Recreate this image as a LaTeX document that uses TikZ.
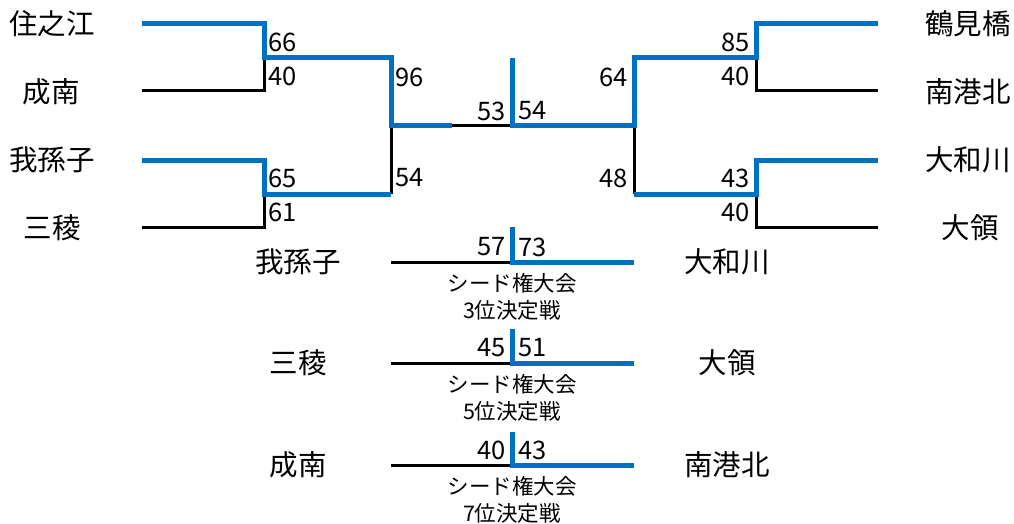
\documentclass[tikz,border=0pt]{standalone}
\usepackage{fontspec}
\setmainfont{Noto Sans CJK JP}
\definecolor{winblue}{HTML}{0070C0}
\begin{document}
\begin{tikzpicture}[x=1pt,y=-1pt,
  win/.style={draw=winblue,line width=5pt,line join=miter},
  lose/.style={draw=black,line width=3pt,line join=miter},
  team/.style={font=\fontsize{28.5}{31}\selectfont,inner sep=0pt},
  score/.style={font=\fontsize{25.5}{28}\selectfont,inner sep=0pt},
  note/.style={font=\fontsize{21.5}{27}\selectfont,inner sep=0pt,align=center}]
\useasboundingbox (0,0) rectangle (1014,524);
% team names
\node[team] (t1) at (52,24) {住之江};
\node[team] (t2) at (51,92) {成南};
\node[team] (t3) at (52,160) {我孫子};
\node[team] (t4) at (52,228) {三稜};
\node[team] (t5) at (968,24) {鶴見橋};
\node[team] (t6) at (968,92) {南港北};
\node[team] (t7) at (968,160) {大和川};
\node[team] (t8) at (970,228) {大領};
% line coordinates
\coordinate (a1) at (142,24);  \coordinate (a2) at (142,91);
\coordinate (a3) at (142,160); \coordinate (a4) at (142,227);
\coordinate (b1) at (878,24);  \coordinate (b2) at (878,91);
\coordinate (b3) at (878,160); \coordinate (b4) at (878,227);
\coordinate (l1) at (264,58);  \coordinate (l2) at (264,194);
\coordinate (l3) at (391,126); \coordinate (lh) at (452,126);
\coordinate (c) at (512,126);  \coordinate (ct) at (512,58);
\coordinate (r3) at (634,126);
\coordinate (r1) at (756,58);  \coordinate (r2) at (756,194);
% losers (black)
\draw[lose] (a2) -| (l1);
\draw[lose] (a4) -| (l2);
\draw[lose] (l2 -| l3) -- (l3);
\draw[lose] (lh) -- (c);
\draw[lose] (b2) -| (r1);
\draw[lose] (b4) -| (r2);
\draw[lose] (r2 -| r3) -- (r3);
% winners (blue)
\draw[win] (a1) -| (l1) -- (l1 -| l3) -- (l3) -- (lh);
\draw[win] (a3) -| (l2) -- (l2 -| l3);
\draw[win] (ct) -- (c) -- (r3) |- (r1) |- (b1);
\draw[win] (r2 -| r3) -- (r2) |- (b3);
% scores
\node[score,anchor=west] (s1) at (268,42) {66};
\node[score,anchor=west] (s2) at (268,76) {40};
\node[score,anchor=west] (s3) at (268,178) {65};
\node[score,anchor=west] (s4) at (268,212) {61};
\node[score,anchor=west] (s5) at (395,77) {96};
\node[score,anchor=west] (s6) at (395,178) {54};
\node[score,anchor=east] (s7) at (506,111) {53};
\node[score,anchor=west] (s8) at (518,111) {54};
\node[score,anchor=east] (s9) at (628,77) {64};
\node[score,anchor=east] (s10) at (628,178) {48};
\node[score,anchor=east] (s11) at (750,42) {85};
\node[score,anchor=east] (s12) at (750,76) {40};
\node[score,anchor=east] (s13) at (750,178) {43};
\node[score,anchor=east] (s14) at (750,212) {40};
% placement matches
\foreach \y/\ya/\yb/\ls/\ws/\lt/\wt/\pl/\id in
  {262/227/247/57/73/我孫子/大和川/3/p,
   363/329/348/45/51/三稜/大領/5/q,
   465/432/450/40/43/成南/南港北/7/r}{
  \node[team] (\id l) at (298,\y) {\lt};
  \node[team] (\id w) at (727,\y) {\wt};
  \coordinate (\id a) at (391,\y);
  \coordinate (\id m) at (512,\y);
  \coordinate (\id t) at (512,\ya);
  \coordinate (\id b) at (634,\y);
  \draw[lose] (\id a) -- (\id m);
  \draw[win] (\id t) -- (\id m) -- (\id b);
  \node[score,anchor=east] (\id s1) at (506,\yb) {\ls};
  \node[score,anchor=west] (\id s2) at (518,\yb) {\ws};
  \node[note,anchor=north] (\id n) at (512,\y+11) {シード権大会\\\pl 位決定戦};
}
\end{tikzpicture}
\end{document}
